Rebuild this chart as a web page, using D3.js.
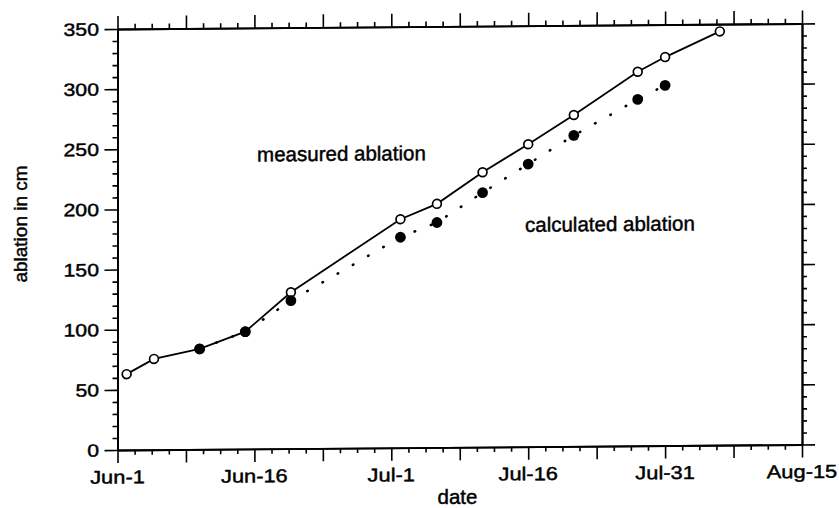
<!DOCTYPE html>
<html>
<head>
<meta charset="utf-8">
<script src="https://cdn.jsdelivr.net/npm/d3@7"></script>
<style>
  body { margin: 0; background: #fff; }
  svg { display: block; font-family: "Liberation Sans", Arial, Helvetica, sans-serif; }
  text { fill: #000; stroke: #000; stroke-width: 0.45px; }
</style>
</head>
<body>
<div id="grafico"></div>
<script>
// ==============================
// DATOS
// ==============================

const measuredDates  = ["Jun-2", "Jun-5", "Jun-10", "Jun-15", "Jun-20", "Jul-2", "Jul-6", "Jul-11", "Jul-16", "Jul-21", "Jul-28", "Jul-31", "Aug-6"];
const measuredValues = [63, 75.5, 83.5, 97.5, 130, 190, 202.5, 228.5, 251.5, 275.5, 311, 323, 344];

const calculatedDates  = ["Jun-10", "Jun-15", "Jun-20", "Jul-2", "Jul-6", "Jul-11", "Jul-16", "Jul-21", "Jul-28", "Jul-31"];
const calculatedValues = [83.5, 97.5, 123, 175, 187, 211.5, 235, 258.5, 288, 299.5];

const xTickLabels = ["Jun-1", "Jun-16", "Jul-1", "Jul-16", "Jul-31", "Aug-15"];
const yTickLabels = [0, 50, 100, 150, 200, 250, 300, 350];

// ==============================
// SVG BASE
// ==============================

const W = 839, H = 508;
const margin = { left: 117.5, right: 37, top: 29, bottom: 58 };
const innerW = W - margin.left - margin.right;

const svg = d3.select("#grafico").append("svg")
  .attr("width", W)
  .attr("height", H);

// the scanned figure is slightly sheared, the plot group follows it
const g = svg.append("g")
  .attr("transform", `translate(${margin.left},0) skewY(-0.46)`);

const parseDay = d3.timeParse("%b-%d");
const dayMs = 24 * 3600 * 1000;

const x = d3.scaleTime()
  .domain([parseDay(xTickLabels[0]), parseDay(xTickLabels[xTickLabels.length - 1])])
  .range([0, innerW]);

const y = d3.scaleLinear()
  .domain([0, 350])
  .range([H - margin.bottom, margin.top]);

// ticks: 8 subdivisions between labelled dates, the middle one longer
const major = xTickLabels.map(parseDay);
const step = (major[1] - major[0]) / 8;
const allX = d3.range(0, 8 * (major.length - 1) + 1).map(i => new Date(+major[0] + i * step));
const minorX = allX.filter((d, i) => i % 4 !== 0);
const tallX = allX.filter((d, i) => i % 4 === 0);
const minorY = d3.range(0, 351, 10).filter(v => v % 50 !== 0);

function estiloEje(sel) {
  sel.selectAll("path, line").attr("stroke", "#000").attr("stroke-width", 1.6);
  sel.select(".domain").attr("stroke-width", 1.9);
}

function ejeX(gen, ty) {
  const base = g.append("g").attr("transform", `translate(0,${ty})`);
  base.append("g").call(gen(x).tickValues(minorX).tickSize(5).tickSizeOuter(0).tickFormat("")).call(estiloEje);
  return base.append("g").call(gen(x).tickValues(tallX).tickSize(13).tickSizeOuter(0).tickFormat("")).call(estiloEje);
}

function ejeY(gen, tx) {
  const base = g.append("g").attr("transform", `translate(${tx},0)`);
  base.append("g").call(gen(y).tickValues(minorY).tickSize(5).tickSizeOuter(0).tickFormat("")).call(estiloEje);
  return base.append("g").call(gen(y).tickValues(yTickLabels).tickSize(13).tickSizeOuter(0).tickFormat("")).call(estiloEje);
}

ejeX(d3.axisBottom, y(0));
ejeX(d3.axisTop, y(350));
ejeY(d3.axisLeft, 0);
ejeY(d3.axisRight, innerW);

// tick labels (the scan shows a wide Helvetica)
const estirar = 1.18;

g.append("g").selectAll("text")
  .data(xTickLabels)
  .join("text")
  .attr("x", d => x(parseDay(d)))
  .attr("y", y(0) + 33.5)
  .attr("text-anchor", "middle")
  .attr("font-size", 18.5)
  .text(d => d);

g.append("g").selectAll("text.ylab")
  .data(yTickLabels)
  .join("text")
  .attr("class", "ylab")
  .attr("x", -18.5)
  .attr("y", d => y(d))
  .attr("dy", "0.36em")
  .attr("text-anchor", "end")
  .attr("font-size", 18)
  .text(d => d);

g.selectAll("text").each(function () {
  const w = this.getComputedTextLength();
  d3.select(this).attr("textLength", w * estirar).attr("lengthAdjust", "spacingAndGlyphs");
});

// ==============================
// SERIES
// ==============================

const measured = measuredDates.map((d, i) => ({ date: parseDay(d), value: measuredValues[i] }));
const calculated = calculatedDates.map((d, i) => ({ date: parseDay(d), value: calculatedValues[i] }));

const line = d3.line().x(d => x(d.date)).y(d => y(d.value));

g.append("path")
  .datum(calculated)
  .attr("d", line)
  .attr("fill", "none")
  .attr("stroke", "#000")
  .attr("stroke-width", 2.6)
  .attr("stroke-linecap", "round")
  .attr("stroke-dasharray", "0.5,17");

g.append("path")
  .datum(measured)
  .attr("d", line)
  .attr("fill", "none")
  .attr("stroke", "#000")
  .attr("stroke-width", 1.8);

g.append("g").selectAll("circle")
  .data(measured)
  .join("circle")
  .attr("cx", d => x(d.date))
  .attr("cy", d => y(d.value))
  .attr("r", 4.4)
  .attr("fill", "#fff")
  .attr("stroke", "#000")
  .attr("stroke-width", 1.7);

g.append("g").selectAll("circle")
  .data(calculated)
  .join("circle")
  .attr("cx", d => x(d.date))
  .attr("cy", d => y(d.value))
  .attr("r", 5.4)
  .attr("fill", "#000");

// etiquetas de las series
g.append("text")
  .attr("x", x(new Date(+parseDay("Jun-1") + 15.3 * dayMs)))
  .attr("y", y(239))
  .attr("font-size", 20.5)
  .text("measured ablation");

g.append("text")
  .attr("x", x(new Date(+parseDay("Jun-1") + 44.65 * dayMs)))
  .attr("y", y(178.7))
  .attr("font-size", 20.5)
  .text("calculated ablation");

// ==============================
// TÍTULOS DE EJES
// ==============================

svg.append("text")
  .attr("x", 457.5)
  .attr("y", 504)
  .attr("text-anchor", "middle")
  .attr("font-size", 20.5)
  .text("date");

svg.append("text")
  .attr("transform", "translate(27,224) rotate(-90)")
  .attr("text-anchor", "middle")
  .attr("font-size", 19)
  .text("ablation in cm");
</script>
</body>
</html>
